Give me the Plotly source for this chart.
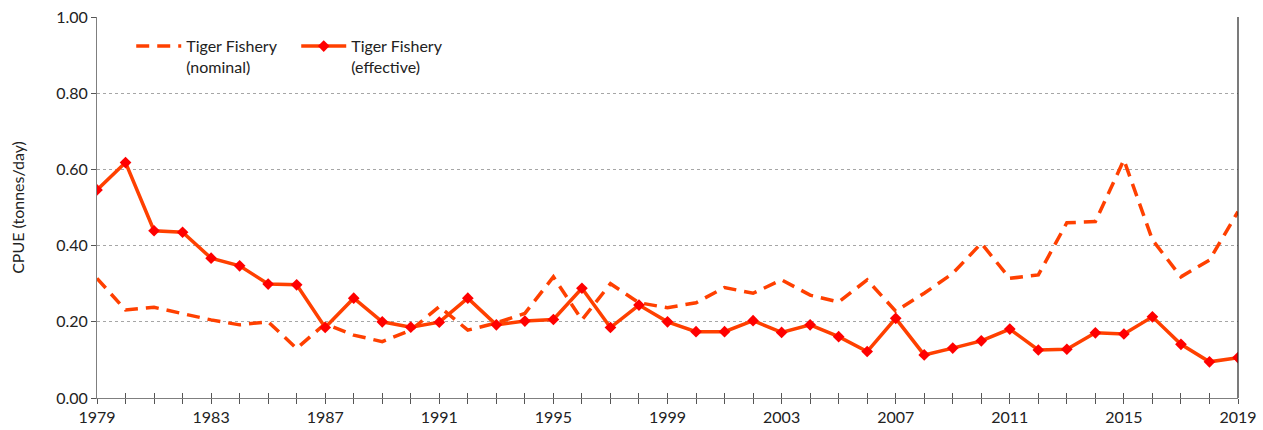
import plotly.graph_objects as go

years = list(range(1979, 2020))
nominal = [0.314, 0.231, 0.238, 0.222, 0.205, 0.192, 0.200, 0.130, 0.195, 0.165,
           0.148, 0.178, 0.240, 0.178, 0.197, 0.222, 0.318, 0.205, 0.300, 0.250,
           0.237, 0.250, 0.290, 0.275, 0.310, 0.270, 0.252, 0.310, 0.228, 0.275,
           0.327, 0.406, 0.314, 0.323, 0.460, 0.463, 0.625, 0.415, 0.318, 0.362, 0.489]
effective = [0.546, 0.618, 0.439, 0.435, 0.367, 0.347, 0.299, 0.297, 0.185, 0.262,
             0.200, 0.186, 0.199, 0.262, 0.192, 0.202, 0.206, 0.288, 0.185, 0.244,
             0.200, 0.174, 0.174, 0.203, 0.172, 0.192, 0.161, 0.122, 0.209, 0.113,
             0.131, 0.150, 0.181, 0.126, 0.128, 0.171, 0.168, 0.213, 0.141, 0.095, 0.106]
series_names = ["Tiger Fishery<br>(nominal)", "Tiger Fishery<br>(effective)"]
y_title = "CPUE (tonnes/day)"

FONT = "Lato, Open Sans, sans-serif"
FS = 16
fig = go.Figure()
fig.add_trace(go.Scatter(x=years, y=nominal, mode="lines", name=series_names[0],
                         line=dict(color="#FF4000", width=3.5, dash="13px,8px")))
fig.add_trace(go.Scatter(x=years, y=effective, mode="lines+markers", name=series_names[1],
                         line=dict(color="#FF4000", width=3.5),
                         marker=dict(symbol="diamond", size=9, color="#FF0000")))
fig.add_trace(go.Scatter(x=[years[0], years[-1]], y=[0, 0], mode="lines", xaxis="x2",
                         line=dict(width=0), showlegend=False, hoverinfo="skip"))

fig.update_layout(
    width=1263, height=430,
    margin=dict(l=97, r=25, t=17, b=32, autoexpand=False),
    paper_bgcolor="white", plot_bgcolor="white",
    font=dict(family=FONT, size=FS, color="#222222"),
    showlegend=True,
    legend=dict(orientation="h", x=0.03, y=0.968, xanchor="left", yanchor="top",
                bgcolor="rgba(0,0,0,0)", font=dict(size=FS, family=FONT),
                itemwidth=45, tracegroupgap=0, valign="top",
                entrywidth=105, entrywidthmode="pixels"),
    xaxis=dict(range=[1979, 2019], tickmode="linear", tick0=1979, dtick=4,
               ticks="outside", ticklen=5, tickcolor="#555555",
               showline=True, linecolor="#7f7f7f", linewidth=1,
               showgrid=False, zeroline=False, automargin=False,
               minor=dict(dtick=1, tick0=1979, ticks="outside", ticklen=5, tickcolor="#555555"),
               tickfont=dict(size=FS)),
    xaxis2=dict(range=[1979, 2019], overlaying="x", anchor="y", side="bottom",
                tickmode="linear", tick0=1979, dtick=1, ticks="inside", ticklen=5,
                tickcolor="#555555", showticklabels=False, showgrid=False, zeroline=False,
                showline=False),
    yaxis=dict(range=[0, 1.0], tickmode="linear", tick0=0, dtick=0.2, tickformat=".2f",
               ticks="outside", ticklen=5, tickcolor="#555555",
               showline=True, linecolor="#7f7f7f", linewidth=1,
               showgrid=True, gridcolor="#a6a6a6", griddash="dot", gridwidth=1.3,
               zeroline=False, tickfont=dict(size=FS), automargin=False,
               title=dict(text=y_title, font=dict(size=FS), standoff=27)),
    shapes=[dict(type="line", xref="paper", yref="paper", x0=1, x1=1, y0=0, y1=1,
                 line=dict(color="#222222", width=1.2))],
)
fig.write_html("out.html", config={"displayModeBar": False},
               post_script="document.body.style.margin='0';")
